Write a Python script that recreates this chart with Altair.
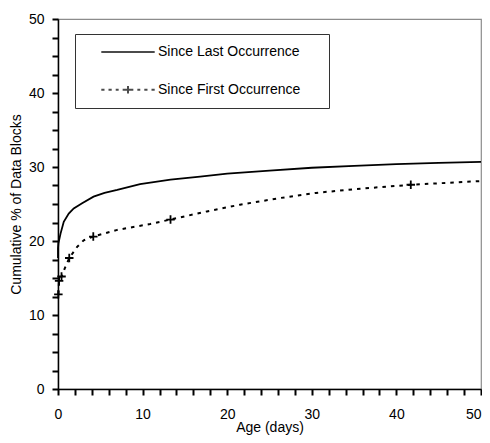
import altair as alt
import pandas as pd

FONT = "Liberation Sans, Arial, sans-serif"
FS = 14

LAST = "Since Last Occurrence"
FIRST = "Since First Occurrence"

last_x = [0, 0, 0.05, 0.3, 0.68, 1.27, 1.86, 2.85, 4.2, 5.5, 7.0, 9.7, 13.3, 16.8, 20, 25, 30, 35, 40, 45, 50]
last_y = [17.7, 19.0, 19.7, 21.0, 22.6, 23.7, 24.4, 25.1, 26.0, 26.5, 26.9, 27.7, 28.3, 28.7, 29.1, 29.5, 29.9, 30.15, 30.4, 30.55, 30.7]

first_x = [0.0417, 0.13, 0.417, 0.8, 1.33, 2.26, 3.04, 4.17, 7.0, 10.9, 13.3, 17.6, 21.5, 26.2, 30.5, 35, 41.7, 50]
first_y = [12.8, 14.6, 15.2, 16.3, 17.7, 19.2, 20.1, 20.6, 21.5, 22.3, 22.9, 24.0, 24.9, 25.8, 26.5, 27.0, 27.6, 28.1]

marker_x = [0.0417, 0.13, 0.417, 1.33, 4.17, 13.3, 41.7]
marker_y = [12.8, 14.6, 15.2, 17.7, 20.6, 22.9, 27.6]

x_ticks = list(range(0, 51, 2))
y_ticks = [i * 2.5 for i in range(21)]

W, H = 423, 370

df_last = pd.DataFrame({"age": last_x, "pct": last_y, "series": LAST, "i": range(len(last_x))})
df_first = pd.DataFrame({"age": first_x, "pct": first_y, "series": FIRST, "i": range(len(first_x))})
df_mark = pd.DataFrame({"age": marker_x, "pct": marker_y, "series": FIRST})
df_legend = pd.DataFrame({"series": [LAST, FIRST], "age": [0, 0], "pct": [0, 0]})

xscale = alt.Scale(domain=[0, 50], nice=False, zero=True)
yscale = alt.Scale(domain=[0, 50], nice=False, zero=True)

xaxis = alt.Axis(values=x_ticks, labelExpr="datum.value % 10 == 0 ? datum.label : ''",
                 title="Age (days)", grid=False, ticks=True, tickSize=6, tickOpacity=1,
                 tickColor="black", tickWidth=2, labelPadding=12, titlePadding=-1,
                 labelOverlap=False, labelFlush=False,
                 labelAlign={"condition": {"test": "datum.value >= 50", "value": "right"},
                             "value": "center"})
yaxis = alt.Axis(values=y_ticks, labelExpr="datum.value % 10 == 0 ? datum.label : ''",
                 title="Cumulative % of Data Blocks", grid=False, ticks=True, tickSize=6,
                 tickOpacity=1, tickColor="black", tickWidth=2, labelPadding=8,
                 titlePadding=5, labelOverlap=False, labelFlush=False)

X = alt.X("age:Q", scale=xscale, axis=xaxis)
Y = alt.Y("pct:Q", scale=yscale, axis=yaxis)

solid = alt.Chart(df_last).mark_line(color="black", strokeWidth=1.8).encode(
    x=X, y=Y, order="i:Q")

dashed = alt.Chart(df_first).mark_line(color="black", strokeWidth=2, strokeDash=[3.5, 5]).encode(
    x=X, y=Y, order="i:Q")

plus_path = "M-1,0H1M0,-1V1"
markers = alt.Chart(df_mark).mark_point(shape=plus_path, filled=False, color="black",
                                        strokeWidth=1.8, size=72, opacity=1).encode(x=X, y=Y)

path_solid = "M-1,0H1"
path_dash = ("M-1,0H-0.88M-0.73,0H-0.61M-0.46,0H-0.35M-0.2,0H0.2M0,-0.14V0.14"
             "M0.35,0H0.46M0.61,0H0.73M0.88,0H1")

PAD = "\u2800" * 2
legend = alt.Legend(title=None, orient="none", legendX=17, legendY=15, direction="vertical",
                    symbolSize=2852, symbolStrokeWidth=2, symbolStrokeColor="black",
                    symbolFillColor="transparent", labelFont=FONT, labelFontSize=FS,
                    labelColor="black", labelOffset=2, padding=8, rowPadding=17.7,
                    clipHeight=20, strokeColor="#333333", fillColor="white",
                    symbolOffset=17, labelLimit=400,
                    labelExpr="datum.label + '" + PAD + "'")

legend_layer = alt.Chart(df_legend).transform_filter("false").mark_point(
    filled=False, color="black", strokeWidth=2).encode(
    x=X, y=Y,
    shape=alt.Shape("series:N", scale=alt.Scale(domain=[LAST, FIRST], range=[path_solid, path_dash]),
                    legend=legend))

chart = alt.layer(solid, dashed, markers, legend_layer).properties(
    width=W, height=H,
    autosize=alt.AutoSizeParams(type="none"),
    padding={"left": 50, "top": 11, "right": 1, "bottom": 46},
).configure_view(
    stroke="#8c8c8c", strokeWidth=1.2
).configure_axis(
    labelFont=FONT, labelFontSize=FS, labelColor="black",
    titleFont=FONT, titleFontSize=FS, titleFontWeight="normal", titleColor="black",
    domainColor="black", domainWidth=1.5, ticks=True, tickColor="black", tickWidth=2, tickSize=6,
)

chart.save("out.html", embed_options={"renderer": "svg", "actions": False})
